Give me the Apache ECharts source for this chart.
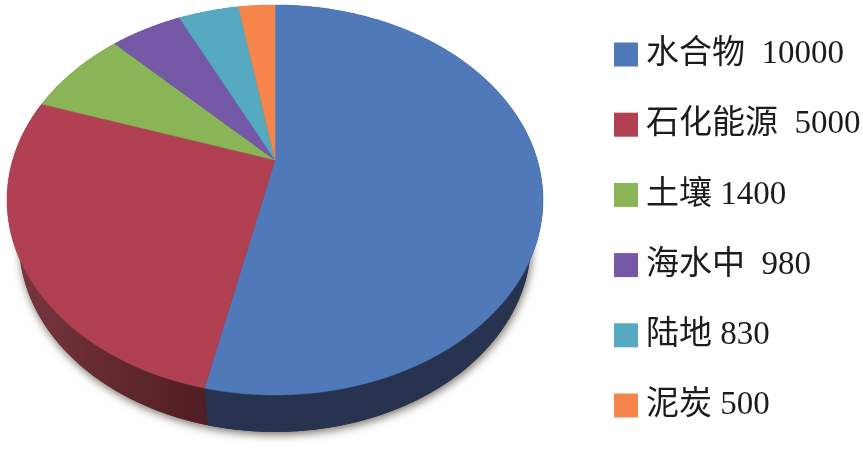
<!DOCTYPE html>
<html>
<head>
<meta charset="utf-8">
<style>html,body{margin:0;padding:0;background:#fff}#c{width:863px;height:459px}</style>
<script src="https://cdn.jsdelivr.net/npm/echarts@6/dist/echarts.min.js"></script>
</head>
<body>
<div id="c"></div>
<script>
const categories = ['水合物', '石化能源', '土壤', '海水中', '陆地', '泥炭'];
const values = [10000, 5000, 1400, 980, 830, 500];
const labelGaps = ['  ', '  ', ' ', '  ', ' ', ' '];
const colors = ['#4f79b8', '#b04052', '#8ab556', '#7558a6', '#55a9c1', '#f5854a'];
const sideColors = [
  ['#27334f', '#27334f'], ['#7c3640', '#4f1d22'], ['#56702f', '#56702f'],
  ['#453265', '#453265'], ['#2f6878', '#2f6878'], ['#97502a', '#97502a']
];

// Perspective view of the disc: apex is the projected centre of the pie
const view = { cx: 275, apexY: 160, A: 262.3, B: 186.8, p: 0.205, topCy: 200, botCy: 242, sx: 0.955, sy: 0.974 };
const total = values.reduce((a, b) => a + b, 0);

function topRim(share) {
  const t = share * 2 * Math.PI, u = Math.sin(t), v = -Math.cos(t), w = 1 - view.p * v;
  return [view.cx + view.A * u / w, view.apexY + view.B * v / w];
}
function bottomRim(share) {
  const q = topRim(share);
  return [view.cx + (q[0] - view.cx) * view.sx, view.botCy + (q[1] - view.topCy) * view.sy];
}
function arc(fn, s0, s1) {
  const n = Math.max(2, Math.ceil((s1 - s0) * 720)), pts = [];
  for (let i = 0; i <= n; i++) pts.push(fn(s0 + (s1 - s0) * i / n));
  return pts;
}

function sliceRenderer(idx) {
  return function (params, api) {
    const before = values.slice(0, idx).reduce((a, b) => a + b, 0);
    const s0 = before / total, s1 = (before + api.value(0)) / total;
    const rim = arc(topRim, s0, s1);
    const face = [[view.cx, view.apexY]].concat(rim);
    const side = rim.concat(arc(bottomRim, s0, s1).reverse());
    return {
      type: 'group',
      children: [
        {
          type: 'polygon', z2: 1, shape: { points: side },
          style: {
            fill: { type: 'linear', x: 0, y: 0, x2: 1, y2: 0, colorStops: [
              { offset: 0, color: sideColors[idx][0] }, { offset: 1, color: sideColors[idx][1] }] }
          }
        },
        {
          type: 'polygon', z2: 2, shape: { points: face },
          style: { fill: colors[idx], stroke: colors[idx], lineWidth: 0.5 }
        }
      ]
    };
  };
}

const series = [{
  type: 'custom', name: '阴影', coordinateSystem: 'none', data: [[1]], silent: true,
  renderItem: function () {
    return {
      type: 'polygon', z2: 0, shape: { points: arc(bottomRim, 0, 1) },
      style: { fill: '#27334f', shadowBlur: 9, shadowColor: 'rgba(90,80,72,0.8)', shadowOffsetY: 3, shadowOffsetX: 1 }
    };
  }
}];
categories.forEach((name, i) => series.push({
  type: 'custom', name: name, coordinateSystem: 'none',
  data: [[values[i]]], itemStyle: { color: colors[i] },
  renderItem: sliceRenderer(i)
}));

const chart = echarts.init(document.getElementById('c'), null, { renderer: 'canvas' });
chart.setOption({
  animation: false,
  backgroundColor: '#fff',
  tooltip: { show: false },
  legend: {
    data: categories,
    orient: 'vertical',
    left: 614, top: 34, padding: 0,
    itemWidth: 24, itemHeight: 24, itemGap: 29.2,
    icon: 'rect',
    selectedMode: false,
    formatter: name => {
      const i = categories.indexOf(name);
      return name + labelGaps[i] + values[i];
    },
    textStyle: {
      fontFamily: '"Liberation Serif","Noto Sans CJK SC"',
      fontSize: 33, lineHeight: 32, color: '#1c1c1c', padding: [9, 0, 0, 3]
    }
  },
  series: series
});
</script>
</body>
</html>
